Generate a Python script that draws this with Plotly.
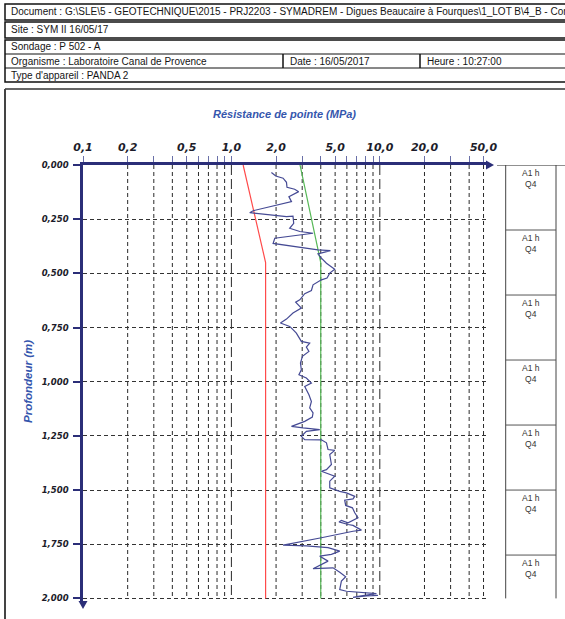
import math
import plotly.graph_objects as go

# ---------------- data ----------------
depth_m = [0.035, 0.051, 0.061, 0.080, 0.103, 0.112, 0.123, 0.146, 0.169, 0.189,
           0.211, 0.220, 0.230, 0.238, 0.236, 0.269, 0.292, 0.307, 0.315, 0.338,
           0.362, 0.379, 0.392, 0.395, 0.410, 0.430, 0.453, 0.481, 0.499, 0.522,
           0.530, 0.553, 0.579, 0.594, 0.622, 0.633, 0.650, 0.660, 0.683, 0.711,
           0.729, 0.745, 0.760, 0.776, 0.814, 0.822, 0.840, 0.860, 0.883, 0.914,
           0.945, 0.968, 0.983, 1.006, 1.022, 1.060, 1.091, 1.121, 1.144, 1.163,
           1.183, 1.206, 1.213, 1.221, 1.229, 1.252, 1.267, 1.268, 1.282, 1.313,
           1.317, 1.336, 1.382, 1.406, 1.413, 1.429, 1.436, 1.459, 1.490, 1.506,
           1.513, 1.529, 1.541, 1.547, 1.571, 1.582, 1.605, 1.628, 1.651, 1.640,
           1.647, 1.659, 1.663, 1.685, 1.690, 1.720, 1.754, 1.758, 1.766, 1.782,
           1.797, 1.805, 1.828, 1.863, 1.859, 1.879, 1.900, 1.920, 1.959, 1.967,
           1.978, 1.989, 1.995, 1.989, 1.986]
qd_mpa = [1.86, 1.99, 2.23, 2.35, 2.37, 2.67, 2.84, 2.44, 2.54, 1.91,
          1.40, 1.33, 1.81, 2.35, 2.60, 2.63, 2.47, 2.89, 3.55, 1.96,
          1.91, 2.89, 3.83, 4.65, 3.83, 4.04, 4.37, 4.97, 4.60, 4.41,
          4.04, 3.55, 3.46, 3.12, 2.89, 2.71, 2.89, 2.96, 2.60, 2.35,
          2.14, 2.47, 2.60, 2.74, 2.96, 3.37, 3.20, 3.33, 3.01, 2.92,
          2.96, 2.85, 3.20, 3.46, 3.12, 3.33, 3.46, 3.37, 3.55, 3.51,
          3.12, 2.54, 3.04, 3.94, 3.20, 2.96, 3.12, 4.04, 4.37, 4.48,
          4.97, 4.60, 4.72, 4.37, 4.04, 4.60, 4.97, 4.60, 4.60, 5.37,
          5.96, 6.78, 6.60, 5.80, 5.89, 6.54, 6.78, 7.13, 6.11, 5.51,
          5.31, 6.11, 6.60, 7.52, 6.60, 4.04, 2.23, 3.20, 4.48, 5.37,
          4.72, 3.94, 4.48, 3.55, 4.84, 5.37, 5.89, 5.51, 5.37, 5.96,
          9.49, 7.32, 6.60, 8.12, 9.72]

red_depth = [0.0, 0.45, 2.0]
red_mpa = [1.2, 1.7, 1.7]
green_depth = [0.0, 0.45, 2.0]
green_mpa = [2.9, 4.0, 4.0]

x_grid_values = [0.2, 0.3, 0.4, 0.5, 0.6, 0.7, 0.8, 0.9, 1.0,
                 2, 3, 4, 5, 6, 7, 8, 9, 10, 20, 30, 40, 50]
x_decade_values = [1.0, 10.0]
x_tick_values = [0.1] + x_grid_values
x_labelled = {0.1: "0,1", 0.2: "0,2", 0.5: "0,5", 1.0: "1,0", 2: "2,0",
              5: "5,0", 10: "10,0", 20: "20,0", 50: "50,0"}
y_tick_values = [0.0, 0.25, 0.5, 0.75, 1.0, 1.25, 1.5, 1.75, 2.0]
y_tick_labels = ["0,000", "0,250", "0,500", "0,750", "1,000", "1,250", "1,500", "1,750", "2,000"]

layer_rows = [0.0, 0.3, 0.6, 0.9, 1.2, 1.5, 1.8]
layer_bottom = 2.0
layer_label = "A1 h<br>Q4"

header_doc = r"Document : G:\SLE\5 - GEOTECHNIQUE\2015 - PRJ2203 - SYMADREM - Digues Beaucaire à Fourques\1_LOT B\4_B - Cor"
header_site = "Site : SYM II 16/05/17"
header_sondage = "Sondage : P 502 - A"
header_org = "Organisme : Laboratoire Canal de Provence"
header_date = "Date : 16/05/2017"
header_heure = "Heure : 10:27:00"
header_type = "Type d'appareil : PANDA 2"

# ---------------- layout geometry ----------------
FW, FH = 565, 619
ML, MR, MT, MB = 83, 77, 165, 16
PW = FW - ML - MR
PH = FH - MT - MB
DECADE_PX = 148.4
X_MIN_LOG = -1.0
X_MAX_LOG = X_MIN_LOG + PW / DECADE_PX
DEPTH_PX = 216.7
Y_MAX = PH / DEPTH_PX


def px(x):
    return (x - ML) / PW


def py(y):
    return 1 - (y - MT) / PH


NAVY = "#2b2e78"
BLUE_TITLE = "#3556ad"
TXT_FONT = "Liberation Sans"

fig = go.Figure()
fig.add_trace(go.Scatter(x=red_mpa, y=red_depth, mode="lines",
                         line=dict(color="#ff4a4a", width=1.2), showlegend=False))
fig.add_trace(go.Scatter(x=green_mpa, y=green_depth, mode="lines",
                         line=dict(color="#56b856", width=1.2), showlegend=False))
fig.add_trace(go.Scatter(x=qd_mpa, y=depth_m, mode="lines",
                         line=dict(color="#454a94", width=1.2), showlegend=False))

shapes = []
# vertical grid lines
for v in x_grid_values:
    dash = "10px,4px" if v in x_decade_values else "4px,3px"
    shapes.append(dict(type="line", xref="x", yref="y", x0=v, x1=v, y0=0, y1=2.0,
                       line=dict(color="#2a2a2a", width=1, dash=dash), layer="below"))

# axis arrows
shapes.append(dict(type="path", xref="paper", yref="paper",
                   path=f"M {px(486)} {py(160.5)} L {px(494)} {py(165)} L {px(486)} {py(169.5)} Z",
                   fillcolor=NAVY, line=dict(width=0)))
shapes.append(dict(type="path", xref="paper", yref="paper",
                   path=f"M {px(78.5)} {py(601)} L {px(83)} {py(609)} L {px(87.5)} {py(601)} Z",
                   fillcolor=NAVY, line=dict(width=0)))

# right layer column
shapes.append(dict(type="line", xref="paper", yref="y", x0=px(497), x1=px(570), y0=0, y1=0,
                   line=dict(color="#222", width=1)))
for xv in (505.7, 556):
    shapes.append(dict(type="line", xref="paper", yref="y", x0=px(xv), x1=px(xv),
                       y0=0, y1=layer_bottom, line=dict(color="#444", width=1)))
for r in layer_rows[1:]:
    shapes.append(dict(type="line", xref="paper", yref="y", x0=px(505.7), x1=px(556),
                       y0=r, y1=r, line=dict(color="#555", width=1)))

# header boxes
def rect(x0, y0, x1, y1, w=1.5):
    shapes.append(dict(type="rect", xref="paper", yref="paper",
                       x0=px(x0), x1=px(x1), y0=py(y0), y1=py(y1),
                       line=dict(color="#111", width=w)))


def hline(x0, x1, y, w=1.0, c="#111"):
    shapes.append(dict(type="line", xref="paper", yref="paper",
                       x0=px(x0), x1=px(x1), y0=py(y), y1=py(y),
                       line=dict(color=c, width=w)))


def vline(x, y0, y1, w=1.0, c="#111"):
    shapes.append(dict(type="line", xref="paper", yref="paper",
                       x0=px(x), x1=px(x), y0=py(y0), y1=py(y1),
                       line=dict(color=c, width=w)))


rect(5, 4, 572, 20)
rect(5, 22, 572, 38)
rect(5, 40, 572, 82)
hline(5, 572, 54)
hline(5, 572, 68)
vline(283, 54, 68, 1.5)
vline(420, 54, 68, 1.5)
# outer frame of chart
hline(5, 572, 89, 1.5, "#333")
vline(5, 89, 622, 2, "#444")

annotations = []


def htext(x, y, s):
    annotations.append(dict(xref="paper", yref="paper", x=px(x), y=py(y), text=s,
                            showarrow=False, xanchor="left", yanchor="middle",
                            font=dict(family=TXT_FONT, size=10, color="#151515")))


htext(9, 12, header_doc)
htext(9, 30, header_site)
htext(9, 47, header_sondage)
htext(9, 61, header_org)
htext(288, 61, header_date)
htext(425, 61, header_heure)
htext(9, 75, header_type)

annotations.append(dict(xref="paper", yref="paper", x=px(284), y=py(114),
                        text="Résistance de pointe (MPa)", showarrow=False,
                        xanchor="center", yanchor="middle",
                        font=dict(family=TXT_FONT, size=11, color=BLUE_TITLE,
                                  weight="bold", style="italic")))
annotations.append(dict(xref="paper", yref="paper", x=px(28), y=py(382),
                        text="Profondeur (m)", showarrow=False, textangle=-90,
                        xanchor="center", yanchor="middle",
                        font=dict(family=TXT_FONT, size=11.5, color=BLUE_TITLE,
                                  weight="bold", style="italic")))
for r in layer_rows:
    annotations.append(dict(xref="paper", yref="y", x=px(531), y=r, text=layer_label,
                            showarrow=False, xanchor="center", yanchor="top", yshift=-1,
                            font=dict(family=TXT_FONT, size=8.5, color="#333")))

fig.update_layout(
    width=FW, height=FH,
    margin=dict(l=ML, r=MR, t=MT, b=MB, pad=0),
    paper_bgcolor="white", plot_bgcolor="white",
    shapes=shapes, annotations=annotations,
    xaxis=dict(type="log", range=[X_MIN_LOG, X_MAX_LOG], side="top",
               tickmode="array", tickvals=x_tick_values,
               ticktext=[x_labelled.get(v, "") for v in x_tick_values],
               showline=True, linecolor=NAVY, linewidth=2.5,
               ticks="outside", ticklen=6, tickwidth=1, tickcolor="#6a70a8",
               showgrid=False, zeroline=False, ticklabelstandoff=1,
               tickfont=dict(family="DejaVu Sans", size=11, color="#1c1c2a",
                             weight="bold", style="italic")),
    yaxis=dict(range=[Y_MAX, 0], tickmode="array", tickvals=y_tick_values,
               ticktext=y_tick_labels,
               showline=True, linecolor=NAVY, linewidth=2.5,
               ticks="outside", ticklen=7, tickwidth=1.5, tickcolor=NAVY,
               showgrid=True, gridcolor="#333", gridwidth=1, griddash="4px,3px",
               zeroline=False, ticklabelstandoff=3,
               tickfont=dict(family="DejaVu Sans", size=8.5, color="#1c1c2a",
                             weight="bold", style="italic")),
)

fig.write_html("out.html",
               config={"displayModeBar": False},
               post_script="document.body.style.margin='0';document.body.style.padding='0';")
